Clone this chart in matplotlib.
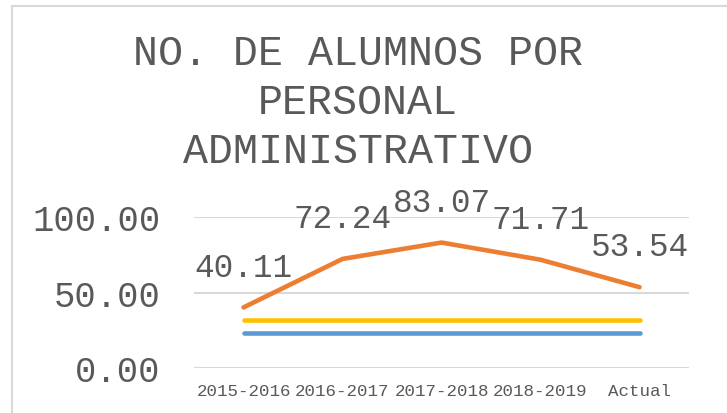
import matplotlib.pyplot as plt
from matplotlib.patches import Rectangle

# Datos de la gráfica
ciclos = ['2015-2016', '2016-2017', '2017-2018', '2018-2019', 'Actual']
alumnos_por_admin = [40.11, 72.24, 83.07, 71.71, 53.54]
referencia_1 = [32.0, 32.0, 32.0, 32.0, 32.0]
referencia_2 = [23.0, 23.0, 23.0, 23.0, 23.0]
ticks_y = [0, 50, 100]

gris_texto = '#595959'
fuente = 'Liberation Mono'

fig = plt.figure(figsize=(7.27, 4.14), dpi=100)
ax = fig.add_axes([194 / 727, 1 - 369 / 414, 495 / 727, 151 / 414])

x = list(range(len(ciclos)))
ax.plot(x, referencia_2, color='#5B9BD5', lw=3.3, solid_capstyle='round', zorder=3)
ax.plot(x, referencia_1, color='#FFC000', lw=3.3, solid_capstyle='round', zorder=3)
ax.plot(x, alumnos_por_admin, color='#ED7D31', lw=3.3, solid_capstyle='round',
        solid_joinstyle='round', zorder=4)

# Etiquetas de datos encima de cada punto
for xi, v in zip(x, alumnos_por_admin):
    ax.annotate(f'{v:.2f}', (xi, v), xytext=(0, 29), textcoords='offset points',
                ha='center', va='center', fontsize=23.6, family=fuente,
                color=gris_texto, annotation_clip=False)

ax.set_xlim(-0.5, len(ciclos) - 0.5)
ax.set_ylim(0, 100)
ax.set_yticks(ticks_y)
ax.set_yticklabels([f'{t:.2f}' for t in ticks_y], family=fuente, fontsize=25.7,
                   color=gris_texto)
ax.set_xticks(x)
ax.set_xticklabels(ciclos, family=fuente, fontsize=12.6, color=gris_texto)
ax.tick_params(axis='both', length=0)
ax.tick_params(axis='y', pad=24)
ax.tick_params(axis='x', pad=10.5)
ax.grid(axis='y', color='#D9D9D9', lw=1.5)
ax.set_axisbelow(True)
for s in ax.spines.values():
    s.set_visible(False)

# Título
fig.text(358 / 727, 1 - 103 / 414, 'NO. DE ALUMNOS POR\nPERSONAL\nADMINISTRATIVO',
         ha='center', va='center', fontsize=30, family=fuente, color=gris_texto,
         linespacing=1.28)

# Marco del área del gráfico
fig.patches.append(Rectangle((12 / 727, -0.1), 1.2, 1.1 - 7 / 414,
                             transform=fig.transFigure, fill=False,
                             edgecolor='#D9D9D9', lw=1.5))

fig.savefig('out.png', dpi=100)
